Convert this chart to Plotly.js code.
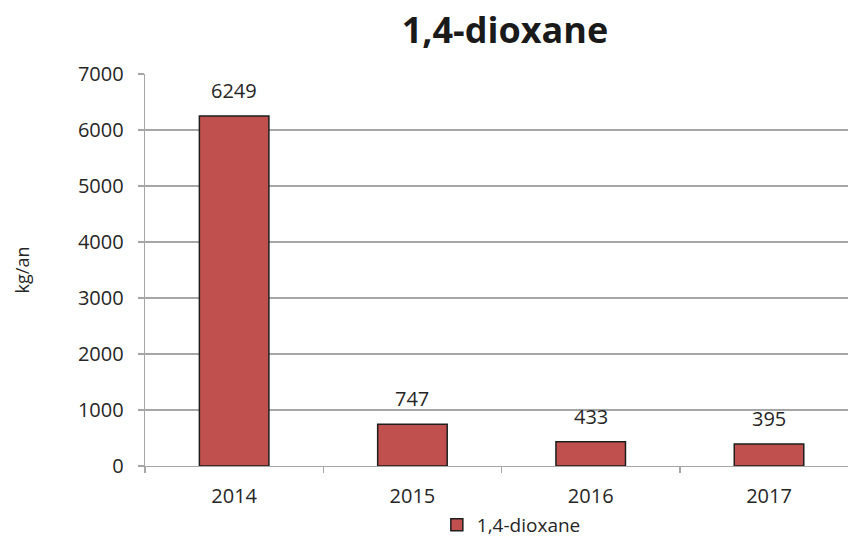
<!DOCTYPE html>
<html>
<head>
<meta charset="utf-8">
<script src="https://cdn.plot.ly/plotly-3.0.1.min.js"></script>
<style>html,body{margin:0;padding:0;background:#fff;}#chart{width:848px;height:544px;}</style>
</head>
<body>
<div id="chart"></div>
<script>
const years = ['2014', '2015', '2016', '2017'];
const values = [6249, 747, 433, 395];
const seriesName = '1,4-dioxane';
const chartTitle = '1,4-dioxane';
const yTitle = 'kg/an';

const fontFam = '"Open Sans", "DejaVu Sans", sans-serif';

const trace = {
  type: 'bar',
  x: years,
  y: values,
  name: seriesName,
  width: 0.39,
  marker: { color: '#C0504D', line: { color: '#1e1e1e', width: 1.5 } },
  hoverinfo: 'x+y'
};

const annotations = values.map((v, i) => ({
  x: i, y: v, xref: 'x', yref: 'y',
  text: String(v), showarrow: false,
  xanchor: 'center', yanchor: 'bottom', yshift: 10,
  font: { family: fontFam, size: 20, color: '#262626' }
}));

const layout = {
  width: 848, height: 544,
  margin: { l: 145, r: 0, t: 74, b: 78, autoexpand: false },
  paper_bgcolor: '#ffffff', plot_bgcolor: '#ffffff',
  showlegend: true,
  title: {
    text: '<b>' + chartTitle + '</b>',
    x: 0.512, xref: 'paper', xanchor: 'center',
    y: 0.945, yref: 'container', yanchor: 'middle',
    font: { family: fontFam, size: 36, color: '#1a1a1a' }
  },
  xaxis: {
    type: 'category',
    range: [-0.5, 3.443],
    tickson: 'boundaries',
    ticks: 'outside', ticklen: 6, tickcolor: '#a6a6a6', tickwidth: 1.3,
    showgrid: false, showline: true, linecolor: '#a6a6a6', linewidth: 1.3,
    tickfont: { family: fontFam, size: 20, color: '#262626' },
    ticklabelstandoff: 12,
    automargin: false,
    fixedrange: true
  },
  yaxis: {
    range: [0, 7000], dtick: 1000, tick0: 0,
    ticks: 'outside', ticklen: 6, tickcolor: '#a6a6a6', tickwidth: 1.3,
    showgrid: true, gridcolor: '#a6a6a6', gridwidth: 1.3,
    showline: true, linecolor: '#a6a6a6', linewidth: 1.3,
    zeroline: false,
    tickfont: { family: fontFam, size: 20, color: '#262626' },
    ticklabelstandoff: 10,
    title: { text: yTitle, font: { family: fontFam, size: 18, color: '#262626' }, standoff: 43 },
    automargin: false,
    fixedrange: true
  },
  legend: {
    orientation: 'h',
    xref: 'container', x: 0.603, xanchor: 'center',
    yref: 'container', y: 0.0, yanchor: 'bottom',
    font: { family: fontFam, size: 19, color: '#262626' },
    itemwidth: 30
  },
  annotations: annotations
};

Plotly.newPlot('chart', [trace], layout, { displayModeBar: false, staticPlot: true });
</script>
</body>
</html>
